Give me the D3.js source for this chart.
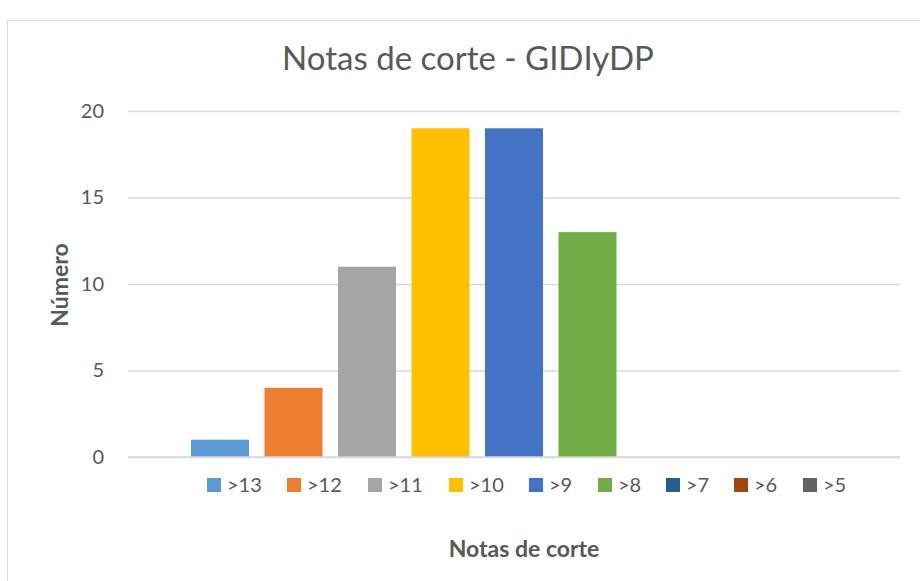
<!DOCTYPE html>
<html>
<head>
<meta charset="utf-8" />
<script src="https://cdn.jsdelivr.net/npm/d3@7"></script>
<style>
  body { margin: 0; background: #fff; }
  text { font-family: Lato, "Open Sans", sans-serif; fill: #595959; }
</style>
</head>
<body>
<script>
// una sola categoría con 9 series (como en Excel)
var series = [">13", ">12", ">11", ">10", ">9", ">8", ">7", ">6", ">5"];
var values = [1, 4, 11, 19, 19, 13, 0, 0, 0];
var colors = ["#5B9BD5", "#ED7D31", "#A5A5A5", "#FFC000", "#4472C4", "#70AD47", "#255E91", "#9E480E", "#636363"];
var yTicks = [0, 5, 10, 15, 20];

var W = 920, H = 581;
var plotLeft = 128, plotRight = 900, plotTop = 111, plotBottom = 457;

var svg = d3.select("body").append("svg")
    .attr("width", W)
    .attr("height", H);

// borde del gráfico
svg.append("rect")
    .attr("x", 7.5).attr("y", 20.5)
    .attr("width", 930).attr("height", 600)
    .attr("fill", "#fff")
    .attr("stroke", "#D9D9D9");

var x = d3.scaleBand()
    .domain(series)
    .range([plotLeft, plotRight])
    .paddingInner(0.211)
    .paddingOuter(0.857);

var y = d3.scaleLinear()
    .domain([0, 20])
    .range([plotBottom, plotTop]);

// líneas de cuadrícula y etiquetas del eje Y
var yAxis = svg.append("g")
    .attr("transform", "translate(" + plotLeft + ",0)")
    .call(d3.axisLeft(y).tickValues(yTicks).tickSize(-(plotRight - plotLeft)).tickPadding(24));
yAxis.select(".domain").remove();
yAxis.selectAll(".tick line").attr("stroke", "#D9D9D9").attr("stroke-width", 1.5);
yAxis.selectAll(".tick text")
    .style("font-family", "Lato, sans-serif")
    .style("font-size", "20px")
    .attr("fill", "#595959");

// barras
svg.selectAll("rect.bar")
    .data(series)
    .enter()
    .append("rect")
    .attr("class", "bar")
    .attr("x", function (d) { return x(d); })
    .attr("y", function (d, i) { return y(values[i]); })
    .attr("width", x.bandwidth())
    .attr("height", function (d, i) { return plotBottom - y(values[i]); })
    .attr("fill", function (d, i) { return colors[i]; });

// eje X (línea base)
svg.append("line")
    .attr("x1", plotLeft).attr("x2", plotRight)
    .attr("y1", plotBottom).attr("y2", plotBottom)
    .attr("stroke", "#D9D9D9").attr("stroke-width", 1.5);

// título
svg.append("text")
    .attr("x", 468).attr("y", 70)
    .attr("text-anchor", "middle")
    .style("font-size", "33px")
    .text("Notas de corte - GIDIyDP");

// títulos de ejes
svg.append("text")
    .attr("transform", "translate(68,285) rotate(-90)")
    .attr("text-anchor", "middle")
    .style("font-size", "23px")
    .style("font-weight", "bold")
    .text("Número");

svg.append("text")
    .attr("x", 524).attr("y", 557)
    .attr("text-anchor", "middle")
    .style("font-size", "23px")
    .style("font-weight", "bold")
    .text("Notas de corte");

// leyenda
var legendX = [207, 287, 368, 449, 529, 598, 666, 734, 803];
var legend = svg.selectAll("g.legend")
    .data(series)
    .enter()
    .append("g")
    .attr("class", "legend")
    .attr("transform", function (d, i) { return "translate(" + legendX[i] + ",478)"; });

legend.append("rect")
    .attr("width", 14).attr("height", 14)
    .attr("fill", function (d, i) { return colors[i]; });

legend.append("text")
    .attr("x", 20).attr("y", 14)
    .style("font-size", "20px")
    .text(function (d) { return d; });
</script>
</body>
</html>
